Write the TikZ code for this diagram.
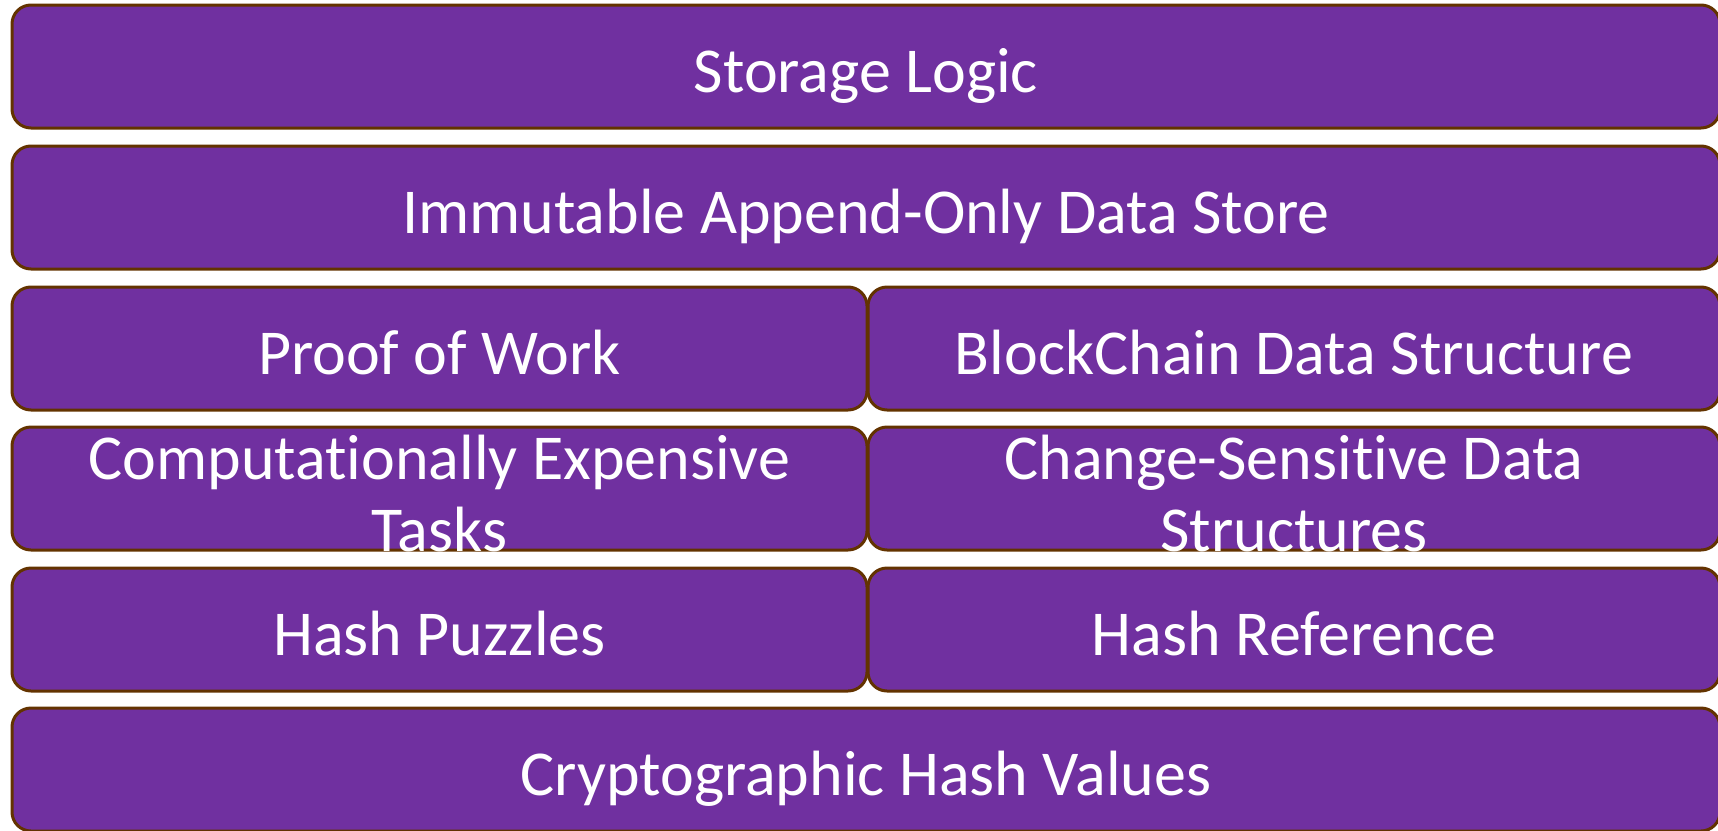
\documentclass[tikz,border=0pt]{standalone}
\usepackage{fontspec}
\setmainfont{Carlito}[RawFeature={-liga;-clig;-calt;-dlig}]
\definecolor{layerfill}{HTML}{7030A0}
\definecolor{layeredge}{HTML}{633300}
\tikzset{
  layer/.style={draw=layeredge, fill=layerfill, line width=3pt,
    rounded corners=19pt, inner sep=0pt, outer sep=0pt,
    text=white, font=\fontsize{64}{72}\selectfont,
    text height=87pt, text depth=36pt, minimum height=123pt,
    anchor=north},
  full/.style={layer, minimum width=1708pt},
  half/.style={layer, minimum width=#1},
}
% keeps "t" and "i" as separate glyphs
\newcommand{\sepglyph}{\kern0pt }
% two-line label: first baseline 52pt below the top edge, second 72pt lower
\newcommand{\twolines}[2]{\raisebox{35pt}{\begin{tabular}[t]{@{}c@{}}#1\\#2\end{tabular}}}
\begin{document}
\begin{tikzpicture}[x=1pt,y=1pt]
  \useasboundingbox (0,0) rectangle (1718,-830);
  % full-width layers
  \node[full] (storage) at (866,-5) {Storage Logic};
  \node[full] (store) at (866,-146) {Immutable Append-Only Data Store};
  % split layers
  \node[half=855pt] (pow) at (439.5,-287) {Proof of Work};
  \node[half=852pt] (chain) at (1294,-287) {BlockChain Data Structure};
  \node[half=855pt] (tasks) at (439.5,-427)
    {\twolines{Computat\sepglyph ionally Expensive}{Tasks}};
  \node[half=852pt] (sensitive) at (1294,-427)
    {\twolines{Change-Sensit\sepglyph ive Data}{Structures}};
  \node[half=855pt] (puzzles) at (439.5,-568) {Hash Puzzles};
  \node[half=852pt] (reference) at (1294,-568) {Hash Reference};
  % base layer
  \node[full] (hashes) at (866,-708) {Cryptographic Hash Values};
\end{tikzpicture}
\end{document}
